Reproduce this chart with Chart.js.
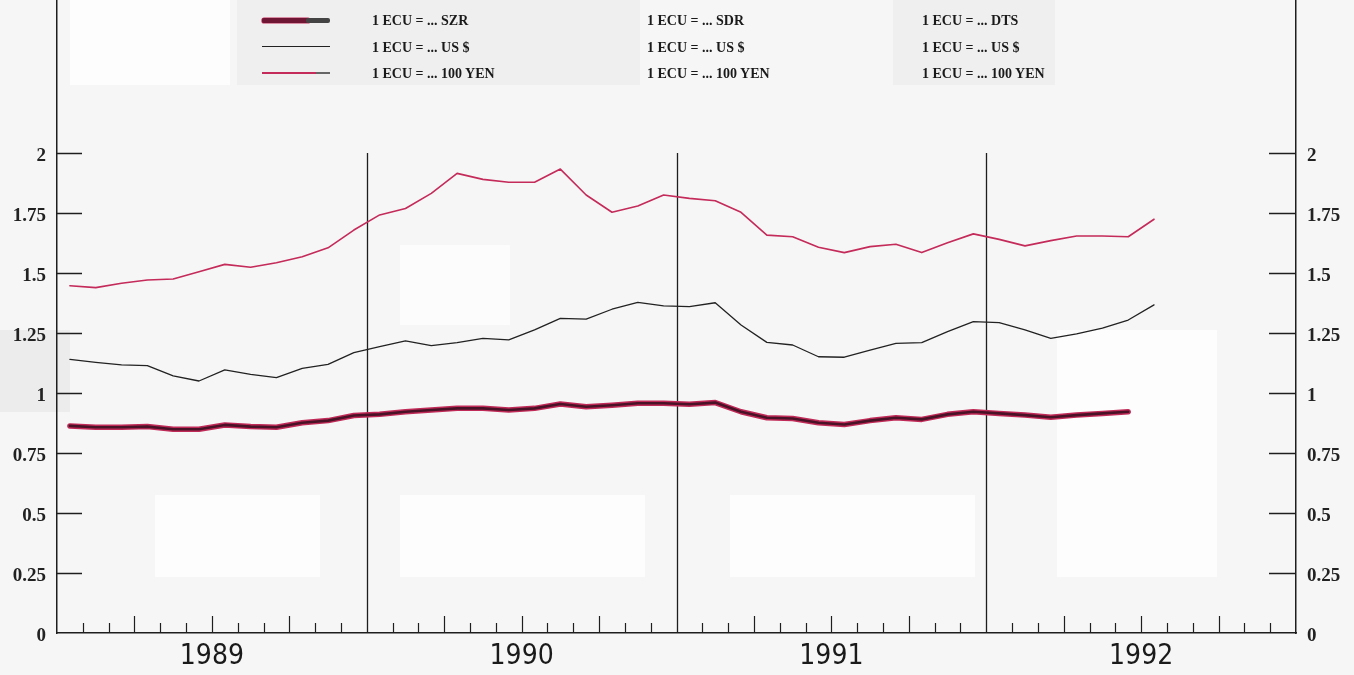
<!DOCTYPE html>
<html>
<head>
<meta charset="utf-8">
<script src="https://cdn.jsdelivr.net/npm/chart.js@4/dist/chart.umd.min.js"></script>
<style>
html,body{margin:0;padding:0;background:#f6f6f6;}
#wrap{position:relative;width:1354px;height:675px;overflow:hidden;background:#f6f6f6;}
canvas{position:absolute;left:0;top:0;}
.patch{position:absolute;}
.lg{position:absolute;font:bold 14px "Liberation Serif",serif;color:#1a1a1a;white-space:nowrap;line-height:16px;}
.sw{position:absolute;}
</style>
</head>
<body>
<div id="wrap">
  <div class="patch" style="left:237px;top:0;width:403px;height:85px;background:#efefef;"></div>
  <div class="patch" style="left:893px;top:0;width:162px;height:85px;background:#efefef;"></div>
  <div class="patch" style="left:70px;top:0;width:160px;height:85px;background:#fdfdfd;"></div>
  <div class="patch" style="left:0;top:330px;width:70px;height:82px;background:#ececec;"></div>
  <div class="patch" style="left:400px;top:245px;width:110px;height:80px;background:#fcfcfc;"></div>
  <div class="patch" style="left:155px;top:495px;width:165px;height:82px;background:#fdfdfd;"></div>
  <div class="patch" style="left:400px;top:495px;width:245px;height:82px;background:#fdfdfd;"></div>
  <div class="patch" style="left:730px;top:495px;width:245px;height:82px;background:#fdfdfd;"></div>
  <div class="patch" style="left:1057px;top:330px;width:160px;height:247px;background:#fdfdfd;"></div>
  <canvas id="c" width="1354" height="675"></canvas>

  <!-- legend column 1 with swatches -->
  <div class="sw" style="left:262px;top:18px;width:48px;height:5px;background:#6e1634;border-radius:2px;box-shadow:0 0 0 0.6px #c42a5a;"></div>
  <div class="sw" style="left:306px;top:18px;width:24px;height:5px;background:#444;border-radius:2px;"></div>
  <div class="sw" style="left:262px;top:46px;width:68px;height:1px;background:#222;"></div>
  <div class="sw" style="left:262px;top:72px;width:54px;height:1.5px;background:#c42a5a;"></div>
  <div class="sw" style="left:316px;top:72px;width:14px;height:1.5px;background:#666;"></div>
  <div class="lg" style="left:372px;top:13px;">1 ECU = ... SZR</div>
  <div class="lg" style="left:372px;top:40px;">1 ECU = ... US $</div>
  <div class="lg" style="left:372px;top:66px;">1 ECU = ... 100 YEN</div>
  <div class="lg" style="left:647px;top:13px;">1 ECU = ... SDR</div>
  <div class="lg" style="left:647px;top:40px;">1 ECU = ... US $</div>
  <div class="lg" style="left:647px;top:66px;">1 ECU = ... 100 YEN</div>
  <div class="lg" style="left:922px;top:13px;">1 ECU = ... DTS</div>
  <div class="lg" style="left:922px;top:40px;">1 ECU = ... US $</div>
  <div class="lg" style="left:922px;top:66px;">1 ECU = ... 100 YEN</div>
</div>
<script>
// ---- data (monthly, starting January 1989) ----
const years = ['1989', '1990', '1991', '1992'];
const yTicks = [0, 0.25, 0.5, 0.75, 1, 1.25, 1.5, 1.75, 2];
const szr = [0.863,0.857,0.857,0.860,0.849,0.849,0.867,0.860,0.857,0.876,0.885,0.906,
             0.911,0.922,0.929,0.936,0.936,0.929,0.936,0.954,0.943,0.949,0.957,0.957,
             0.953,0.960,0.922,0.897,0.894,0.876,0.869,0.885,0.897,0.890,0.911,0.922,
             0.915,0.908,0.899,0.908,0.915,0.922];
const usd = [1.140,1.128,1.117,1.114,1.071,1.050,1.096,1.078,1.064,1.103,1.119,1.168,
             1.193,1.217,1.197,1.210,1.228,1.221,1.263,1.311,1.308,1.349,1.378,1.363,
             1.360,1.376,1.283,1.211,1.200,1.151,1.149,1.179,1.207,1.210,1.256,1.297,
             1.293,1.263,1.228,1.246,1.270,1.304,1.367];
const yen = [1.447,1.439,1.457,1.471,1.475,1.505,1.536,1.524,1.543,1.568,1.605,1.679,
             1.742,1.769,1.832,1.915,1.890,1.878,1.878,1.933,1.825,1.753,1.779,1.825,
             1.811,1.801,1.753,1.658,1.651,1.607,1.585,1.610,1.620,1.585,1.626,1.663,
             1.640,1.613,1.635,1.654,1.654,1.651,1.724];

const monthsTotal = years.length * 12;
const toPts = arr => arr.map((v, i) => ({x: i + 0.5, y: v}));

const marks = {
  id: 'marks',
  beforeDatasetsDraw(chart) {
    const {ctx, scales: {x, y}, chartArea: ca} = chart;
    ctx.save();
    ctx.strokeStyle = '#1e1e1e';
    ctx.lineWidth = 1.2;
    for (let m = 1; m < monthsTotal; m++) {
      if (m % 12 === 0) continue;
      const px = Math.round(x.getPixelForValue(m)) + 0.5;
      const len = (m % 3 === 0) ? 17 : 10;
      ctx.beginPath(); ctx.moveTo(px, ca.bottom); ctx.lineTo(px, ca.bottom - len); ctx.stroke();
    }
    ctx.lineWidth = 1.3;
    for (let yr = 1; yr < years.length; yr++) {
      const px = Math.round(x.getPixelForValue(yr * 12)) + 0.5;
      ctx.beginPath(); ctx.moveTo(px, y.getPixelForValue(yTicks[yTicks.length - 1])); ctx.lineTo(px, ca.bottom); ctx.stroke();
    }
    ctx.lineWidth = 1.5;
    yTicks.forEach(v => {
      if (v === 0) return;
      const py = Math.round(y.getPixelForValue(v)) + 0.5;
      ctx.beginPath(); ctx.moveTo(ca.left, py); ctx.lineTo(ca.left + 25, py); ctx.stroke();
      ctx.beginPath(); ctx.moveTo(ca.right, py); ctx.lineTo(ca.right - 27, py); ctx.stroke();
    });
    ctx.restore();
  }
};

const yCommon = {
  type: 'linear', min: 0, max: 633 / 240,
  grid: {display: false, drawTicks: false},
  border: {display: true, color: '#1e1e1e', width: 1.5},
  afterBuildTicks: s => { s.ticks = yTicks.map(v => ({value: v})); },
  ticks: {
    padding: 11, color: '#222', labelOffset: 3,
    font: {family: '"Liberation Serif", serif', size: 19, weight: 'bold'},
    callback: v => String(v)
  }
};

new Chart(document.getElementById('c'), {
  type: 'line',
  data: {
    datasets: [
      {label: '1 ECU = ... 100 YEN', data: toPts(yen), borderColor: '#c42a5a', borderWidth: 1.6, yAxisID: 'y', order: 0},
      {label: '1 ECU = ... US $', data: toPts(usd), borderColor: '#222222', borderWidth: 1.3, yAxisID: 'y', order: 1},
      {label: 'SZR core', data: toPts(szr), borderColor: '#4a1226', borderWidth: 2.6, yAxisID: 'y', order: 2},
      {label: '1 ECU = ... SZR', data: toPts(szr), borderColor: '#c02a58', borderWidth: 5.5, yAxisID: 'y', order: 3}
    ]
  },
  options: {
    responsive: false, animation: false, maintainAspectRatio: false,
    layout: {padding: 0},
    elements: {point: {radius: 0}, line: {tension: 0, borderCapStyle: 'round', borderJoinStyle: 'round'}},
    plugins: {legend: {display: false}, tooltip: {enabled: false}},
    scales: {
      x: {
        type: 'linear', min: 0, max: monthsTotal,
        grid: {display: false, drawTicks: false},
        border: {display: true, color: '#1e1e1e', width: 1.5},
        afterBuildTicks: s => { s.ticks = years.map((_, i) => ({value: i * 12 + 6})); },
        afterFit: s => { s.height = 42; s.paddingLeft = 0; s.paddingRight = 0; },
        ticks: {
          autoSkip: false, maxRotation: 0, padding: 7, color: '#1a1a1a',
          font: {family: '"Liberation Sans Narrow", "DejaVu Sans Condensed", sans-serif', size: 28},
          callback: v => years[Math.floor(v / 12)]
        }
      },
      y: Object.assign({}, yCommon, {position: 'left', afterFit: s => { s.width = 57; s.paddingTop = 0; s.paddingBottom = 0; }}),
      y2: Object.assign({}, yCommon, {position: 'right', afterFit: s => { s.width = 58; s.paddingTop = 0; s.paddingBottom = 0; }})
    }
  },
  plugins: [marks]
});
</script>
</body>
</html>
